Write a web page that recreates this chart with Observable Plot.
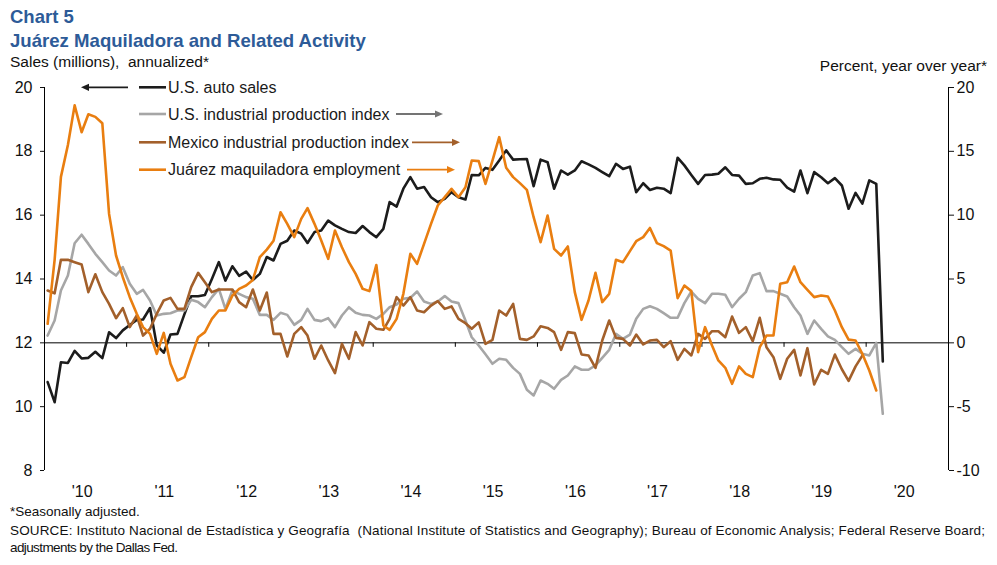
<!DOCTYPE html>
<html><head><meta charset="utf-8">
<script src="https://cdn.jsdelivr.net/npm/d3@7"></script>
<script src="https://cdn.jsdelivr.net/npm/@observablehq/plot@0.6"></script>
<style>
html,body{margin:0;padding:0;background:#fff;}
#wrap{position:relative;width:997px;height:565px;overflow:hidden;font-family:"Liberation Sans",Arial,Helvetica,sans-serif;}
#wrap svg{position:absolute;left:0;top:0;}
</style></head><body><div id="wrap"></div>
<script>
// Monthly data, Jan 2010 onward
const autoSales = [10.77,10.14,11.39,11.37,11.75,11.51,11.53,11.72,11.52,12.33,12.15,12.39,
12.56,12.72,12.73,13.09,11.92,11.69,12.26,12.28,12.9,13.46,13.46,13.5,
14.0,14.53,13.95,14.4,14.1,14.23,13.97,14.16,14.69,14.58,15.1,15.2,
15.52,15.42,15.13,15.47,15.52,15.83,15.68,15.57,15.47,15.44,15.66,15.47,
15.31,15.57,16.41,16.27,16.83,17.19,16.83,16.88,16.56,16.41,16.51,16.72,
16.56,16.49,17.26,17.25,17.48,17.42,17.71,18.03,17.74,17.75,17.76,16.91,
17.74,17.66,16.83,17.4,17.27,17.4,17.69,17.59,17.48,17.35,17.22,17.61,
17.45,17.52,16.72,17.0,16.79,16.86,16.83,16.69,17.8,17.56,17.26,16.98,
17.26,17.27,17.3,17.5,17.26,17.24,16.98,17.0,17.14,17.17,17.12,17.11,
16.86,16.74,17.4,16.69,17.35,17.19,17.0,17.16,16.93,16.2,16.7,16.36,
17.09,16.98,11.42];

const usIP = [0.57,1.75,4.1,5.27,7.8,8.47,7.75,6.97,6.32,5.67,5.27,5.93,
4.62,3.84,4.15,3.32,2.14,2.27,2.32,2.53,2.53,3.37,3.19,2.79,
3.58,4.23,2.66,4.1,3.84,3.58,3.45,2.19,2.19,1.8,2.35,2.19,
1.41,1.8,2.66,1.8,1.7,1.93,1.23,2.14,2.79,2.35,2.19,2.14,
1.88,2.27,2.79,3.0,3.45,3.52,4.02,3.24,3.05,3.24,3.66,3.24,
3.11,1.75,0.44,-0.21,-0.9,-1.64,-1.25,-1.33,-1.96,-2.43,-3.68,-4.12,
-2.95,-3.21,-3.6,-2.9,-2.56,-1.85,-2.11,-2.11,-1.77,-1.17,-0.55,0.7,
0.31,0.65,1.88,2.66,2.87,2.66,2.32,1.96,1.96,3.11,4.02,3.45,
3.11,3.84,3.84,3.76,2.79,3.45,3.97,5.27,5.46,4.05,4.05,3.84,
3.63,2.79,2.14,0.7,1.75,1.1,0.5,0.23,-0.34,-0.86,-0.47,-0.86,
-0.99,0.0,-5.56];

const mexIP = [4.1,3.88,6.5,6.5,6.32,6.14,3.97,5.37,3.97,3.05,1.93,2.72,
1.23,2.14,0.57,1.1,2.27,3.32,3.52,2.66,2.66,4.36,5.48,4.75,
3.97,4.18,4.18,4.18,3.19,2.79,4.18,2.53,3.94,0.7,0.7,-1.07,
0.7,1.23,0.57,-1.25,-0.21,-1.38,-2.38,-0.08,-1.25,0.84,-0.21,1.62,
1.1,1.02,1.88,3.58,2.92,3.58,2.53,2.4,2.92,3.26,2.66,2.85,
1.88,1.54,1.1,1.6,-0.08,0.23,2.53,2.14,3.05,0.31,0.23,0.5,
1.3,1.17,0.84,-0.55,0.84,0.76,-0.91,-0.99,-1.96,0.18,1.75,0.39,
0.31,-0.21,0.65,-0.13,0.18,0.23,-0.34,0.13,-1.33,-0.47,-0.99,0.7,
0.31,0.91,0.91,0.44,2.06,0.78,1.23,0.13,1.96,-0.34,-1.12,-2.82,
-1.25,-0.55,-2.56,-0.42,-3.26,-2.11,-2.43,-0.92,-2.07,-2.98,-1.84,-1.0];

const juarezEmp = [1.49,6.5,13.0,15.5,18.6,16.5,17.9,17.7,17.2,10.1,6.84,5.14,
3.58,2.27,1.23,0.7,-0.86,0.78,-1.64,-2.95,-2.69,-1.12,0.44,0.84,
1.88,2.53,2.53,3.7,4.23,4.49,4.93,6.71,7.3,8.0,10.23,9.32,
8.28,9.71,10.55,9.32,8.02,6.58,8.8,7.49,6.32,5.4,4.23,4.05,
6.1,1.36,1.02,1.88,3.84,6.97,6.19,7.75,9.32,10.76,11.41,12.06,
11.41,12.19,14.28,14.23,12.45,14.28,16.11,13.71,12.98,12.51,11.98,9.84,
7.88,9.97,7.36,6.84,7.55,3.97,1.8,3.32,5.48,3.19,3.84,6.5,
6.32,7.18,7.96,8.28,9.0,7.81,7.57,7.23,3.5,4.49,4.05,-0.73,
1.23,-0.21,-1.38,-1.96,-3.21,-1.85,-2.43,-2.69,-0.34,0.57,0.57,4.62,
4.75,5.98,4.75,4.15,3.58,3.71,3.63,2.53,1.23,0.25,0.18,-0.86,
-2.17,-3.73];

const yearLabels = ["'10","'11","'12","'13","'14","'15","'16","'17","'18","'19","'20"];
const leftTicks = [8,10,12,14,16,18,20];
const rightTicks = [-10,-5,0,5,10,15,20];
const seriesNames = ["U.S. auto sales","U.S. industrial production index","Mexico industrial production index","Juárez maquiladora employment"];
const seriesColors = ["#1c1c1c","#a6a6a6","#a3602b","#e97e10"];
const arrowColors = ["#1c1c1c","#747474","#a3602b","#e97e10"];

const monthDate = i => new Date(Date.UTC(2010, i, 15));
const salesToPct = v => (v - 12) * 2.5;
const pctToSales = p => p / 2.5 + 12;
const x0 = new Date(Date.UTC(2010, 0, 1)), x1 = new Date(Date.UTC(2021, 0, 1));
const yearStarts = d3.range(2011, 2021).map(y => new Date(Date.UTC(y, 0, 1)));
const midYears = d3.range(2010, 2021).map(y => new Date(Date.UTC(y, 6, 1)));

const W = 997, H = 565;
const lw = 2.6;

const chart = Plot.plot({
  width: W, height: H,
  marginLeft: 44, marginRight: 49, marginTop: 87, marginBottom: 95,
  style: {fontFamily: '"Liberation Sans",Arial,sans-serif', fontSize: "16px", color: "#111", background: "transparent"},
  x: {type: "utc", domain: [x0, x1]},
  y: {domain: [-10, 20]},
  marks: [
    Plot.axisY({anchor: "right", ticks: rightTicks, tickSize: 5, tickPadding: 3, fontSize: 16, label: null, tickFormat: d => String(d)}),
    Plot.axisY({anchor: "left", ticks: leftTicks.map(salesToPct), tickSize: 4, tickPadding: 8, fontSize: 16, label: null, tickFormat: d => String(Math.round(pctToSales(d)))}),
    Plot.axisX({ticks: midYears, tickSize: 0, tickPadding: 15, fontSize: 16, label: null, dx: -3, tickFormat: d => yearLabels[d.getUTCFullYear() - 2010]}),
    Plot.ruleX([x0, x1], {stroke: "#000", strokeWidth: 1}),
    Plot.ruleY([0], {stroke: "#000", strokeWidth: 1}),
    Plot.ruleX(yearStarts, {y1: 0, y2: -0.35, stroke: "#000", strokeWidth: 1}),
    Plot.line(autoSales, {x: (d, i) => monthDate(i), y: d => salesToPct(d), stroke: seriesColors[0], strokeWidth: lw}),
    Plot.line(usIP, {x: (d, i) => monthDate(i), y: d => d, stroke: seriesColors[1], strokeWidth: lw}),
    Plot.line(mexIP, {x: (d, i) => monthDate(i), y: d => d, stroke: seriesColors[2], strokeWidth: lw}),
    Plot.line(juarezEmp, {x: (d, i) => monthDate(i), y: d => d, stroke: seriesColors[3], strokeWidth: lw})
  ]
});
const wrap = document.getElementById("wrap");
wrap.appendChild(chart);

// Overlay: titles, legend, footnotes
const ns = "http://www.w3.org/2000/svg";
const ov = d3.select(wrap).append("svg").attr("width", W).attr("height", H)
  .attr("xmlns", ns).style("font-family", '"Liberation Sans",Arial,sans-serif');

const blue = "#2d5b98";
ov.append("text").attr("x", 10).attr("y", 23).attr("font-size", 18.5).attr("font-weight", "bold").attr("fill", blue).text("Chart 5");
ov.append("text").attr("x", 10).attr("y", 46.5).attr("font-size", 18.6).attr("font-weight", "bold").attr("fill", blue).text("Juárez Maquiladora and Related Activity");
ov.append("text").attr("x", 10).attr("y", 67).attr("font-size", 15.5).attr("fill", "#111").attr("xml:space","preserve").text("Sales (millions),  annualized*");
ov.append("text").attr("x", 987).attr("y", 71).attr("font-size", 15.5).attr("fill", "#111").attr("text-anchor", "end").text("Percent, year over year*");

// legend
const legY = [87.3, 114, 142.3, 169.7];
const arrows = [[128, 81], [396, 443], [412, 460], [407, 455]];
seriesNames.forEach((name, k) => {
  const y = legY[k];
  ov.append("line").attr("x1", 139).attr("x2", 166).attr("y1", y).attr("y2", y).attr("stroke", seriesColors[k]).attr("stroke-width", lw);
  ov.append("text").attr("x", 168).attr("y", y + 5.6).attr("font-size", 16).attr("fill", "#1a1a1a").text(name);
  const [a, b] = arrows[k];
  const dir = Math.sign(b - a);
  const hl = 8, hw = 3.6;
  ov.append("line").attr("x1", a).attr("x2", b - dir * hl).attr("y1", y).attr("y2", y).attr("stroke", arrowColors[k]).attr("stroke-width", 1.8);
  ov.append("path").attr("d", `M${b},${y} L${b - dir * hl},${y - hw} L${b - dir * hl},${y + hw} Z`).attr("fill", arrowColors[k]);
});

// footnotes
const foot = ov.append("g").attr("font-size", 13.5).attr("fill", "#111");
foot.append("text").attr("x", 10).attr("y", 516).text("*Seasonally adjusted.");
foot.append("text").attr("x", 10).attr("y", 535).attr("xml:space","preserve")
  .attr("textLength", 975).attr("lengthAdjust", "spacing")
  .text("SOURCE: Instituto Nacional de Estadística y Geografía  (National Institute of Statistics and Geography); Bureau of Economic Analysis; Federal Reserve Board;");
foot.append("text").attr("x", 10).attr("y", 552)
  .attr("textLength", 168).attr("lengthAdjust", "spacing")
  .text("adjustments by the Dallas Fed.");
</script></body></html>
